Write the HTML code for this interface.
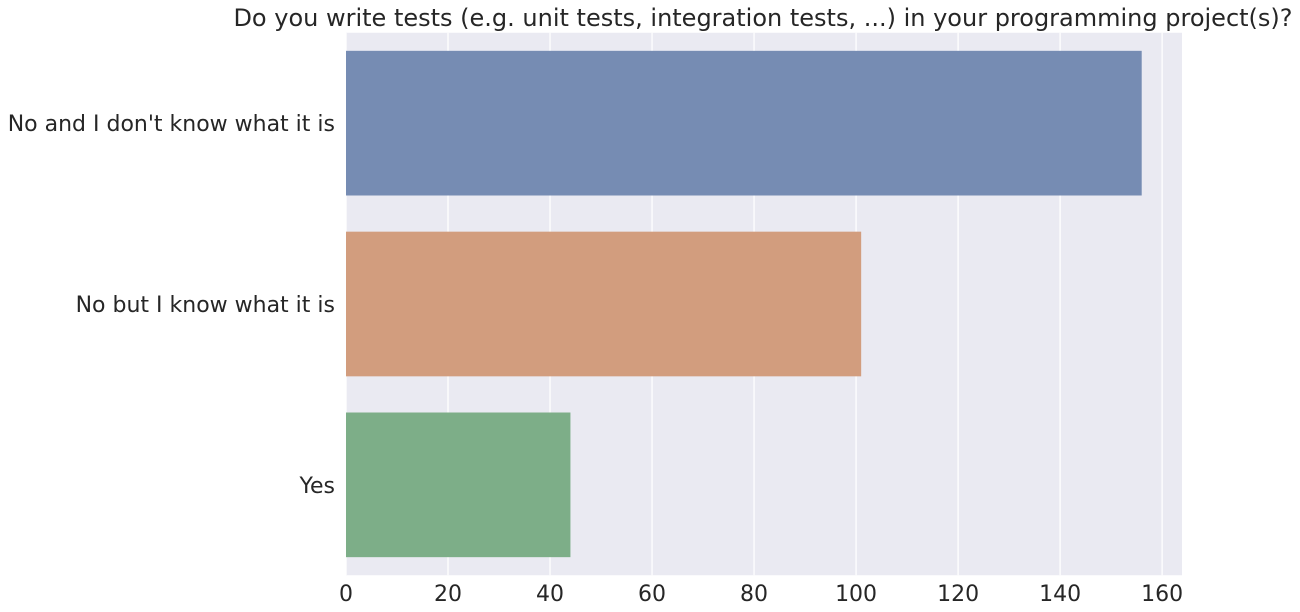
<!DOCTYPE html>
<html><head><meta charset="utf-8"><style>
body{margin:0;background:#fff;}
svg{display:block;font-family:"DejaVu Sans",sans-serif;}
</style></head><body>
<svg id="chart" width="1300" height="612"></svg>
<script>
const categories = ["No and I don't know what it is","No but I know what it is","Yes"];
const values = [156, 101, 44];
const colors = ["#768cb3","#d29d7e","#7dae88"];
const xTicks = [0,20,40,60,80,100,120,140,160];
const NS="http://www.w3.org/2000/svg";
const svg=document.getElementById('chart');
const L=346,R=1182,T=32.75,B=575.25,xMax=163.9;
const x=v=>L+(v/xMax)*(R-L);
const band=(B-T)/categories.length;
const y=i=>T+band*i;
function mk(t,a){const e=document.createElementNS(NS,t);for(const k in a)e.setAttribute(k,a[k]);svg.appendChild(e);return e;}
const bg=mk('rect',{x:L,y:T,width:R-L,height:B-T,fill:'#eaeaf2'});


xTicks.forEach(t=>{
  const g=mk('line',{x1:x(t),x2:x(t),y1:T,y2:B,stroke:'#fff','stroke-width':1.3});
  
  
  const lb=mk('text',{x:x(t),y:601,'text-anchor':'middle','font-size':22,fill:'#262626'});
  lb.textContent=t;
  
  
});
categories.forEach((c,i)=>{
  const r=mk('rect',{x:L,y:y(i)+band*0.1,width:x(values[i])-L,height:band*0.8,fill:colors[i]});
  
  
  const lb=mk('text',{x:335,y:y(i)+band/2+8,'text-anchor':'end','font-size':22,fill:'#262626'});
  lb.textContent=c;
  
  
});
const title=mk('text',{x:763,y:26,'text-anchor':'middle','font-size':24,fill:'#262626'});
title.textContent="Do you write tests (e.g. unit tests, integration tests, ...) in your programming project(s)?";


</script>
</body></html>
